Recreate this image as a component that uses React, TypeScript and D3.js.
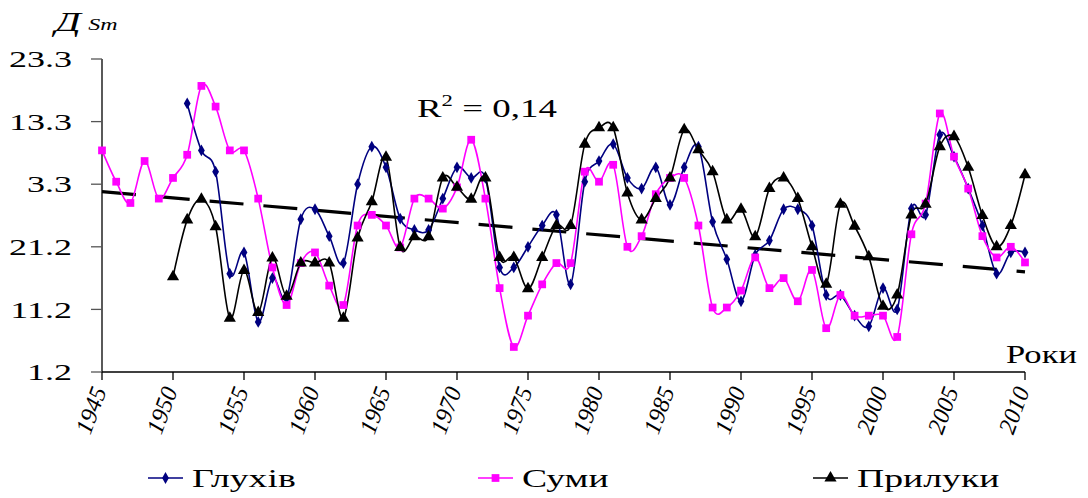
import * as d3 from "d3"

// years 1945..2010
const years = d3.range(1945, 2011)

// y tick labels as printed on the chart (bottom to top)
const yTickLabels = ["1.2", "11.2", "21.2", "3.3", "13.3", "23.3"]
const yTickPos = [0, 10, 20, 30, 40, 50]
const xTickYears = d3.range(1945, 2011, 5)

// values in chart units (0 = bottom tick, 50 = top tick)
const sumy = [
  35.4, 30.4, 27.0, 33.7, 27.7, 31.0, 34.7, 45.7, 42.4, 35.4,
  35.4, 27.7, 16.7, 10.7, 17.4, 19.1, 13.8, 10.7, 23.4, 25.1,
  23.4, 19.9, 27.7, 27.7, 26.1, 29.5, 37.1, 27.7, 13.4, 4.0,
  9.0, 14.0, 17.4, 17.4, 32.0, 30.4, 33.1, 20.0, 21.7, 28.4,
  31.0, 31.0, 23.4, 10.3, 10.3, 13.0, 18.3, 13.4, 15.0, 11.3,
  16.3, 7.0, 12.3, 9.0, 9.0, 9.0, 5.6, 22.0, 26.9, 41.3,
  34.4, 29.3, 21.7, 18.3, 20.0, 17.5,
]

const glukhiv = [
  null, null, null, null, null, null,
  42.9, 35.4, 32.0, 15.7, 19.1, 8.0, 15.0, 11.8, 24.4, 26.0,
  21.7, 17.4, 30.0, 36.0, 32.7, 24.5, 22.7, 22.7, 27.7, 32.7,
  31.0, 31.0, 16.7, 16.7, 20.0, 23.4, 25.1, 14.0, 30.4, 33.7,
  36.4, 31.0, 29.3, 32.7, 26.7, 32.7, 36.0, 24.0, 18.0, 11.3,
  18.7, 21.0, 26.0, 26.0, 23.4, 12.3, 12.3, 9.0, 7.3, 13.4,
  10.0, 26.1, 25.1, 37.9, 34.4, 29.3, 23.4, 15.7, 19.1, 19.1,
]

const pryluky = [
  null, null, null, null, null,
  15.2, 24.3, 27.6, 23.2, 8.6, 16.2, 9.5, 18.2, 12.1, 17.4,
  17.4, 17.4, 8.6, 21.4, 27.2, 34.3, 19.9, 21.6, 21.6, 31.0,
  29.5, 27.6, 31.0, 18.3, 18.3, 13.3, 18.3, 23.4, 23.4, 36.4,
  39.0, 39.0, 28.6, 24.3, 27.7, 31.0, 38.7, 35.5, 32.0, 24.3,
  26.0, 21.6, 29.3, 31.0, 27.7, 20.0, 14.0, 26.8, 23.3, 18.4,
  10.5, 12.3, 25.1, 26.8, 36.0, 37.6, 32.7, 25.0, 20.0, 23.4, 31.5,
]

// linear trend, values at 1945 and 2010
const trendYears = [1945, 2010]
const trendValues = [28.8, 16.0]

type Pt = { year: number; v: number | null }

const FONT = "Liberation Serif"
const width = 1088
const height = 498
// the original picture is stretched sideways, text included
const SX = 1.5

const x = d3.scaleLinear().domain([1945, 2010]).range([102, 1025])
const y = d3.scaleLinear().domain([0, 50]).range([372, 59])

const series = [
  { name: "Глухів", values: glukhiv, color: "#000080", marker: "diamond" },
  { name: "Суми", values: sumy, color: "#FF00FF", marker: "square" },
  { name: "Прилуки", values: pryluky, color: "#000000", marker: "triangle" },
]

const symbolPath = (m: string) =>
  (m === "diamond"
    ? d3.symbol().type(d3.symbolDiamond).size(40)
    : m === "square"
    ? d3.symbol().type(d3.symbolSquare).size(60)
    : d3.symbol().type(d3.symbolTriangle).size(64))() as string

const line = d3.line<Pt>()
  .defined(d => d.v !== null)
  .x(d => x(d.year))
  .y(d => y(d.v as number))
  .curve(d3.curveCardinal.tension(0))

const trendLine = d3.line<Pt>().x(d => x(d.year)).y(d => y(d.v as number))

const legendX = [148, 478, 813]

export default function App() {
  const trend = trendYears.map((yr, i) => ({ year: yr, v: trendValues[i] }))
  const [x0, x1] = x.range()
  const [y0, y1] = y.range()

  return (
    <svg
      width={width}
      height={height}
      fontFamily={FONT}
      style={{ position: "absolute", left: 0, top: 0, background: "#fff" }}
    >
      {/* y axis */}
      <line x1={x0} x2={x0} y1={y0} y2={y1} stroke="#000" strokeWidth={1.3} />
      {yTickPos.map((t, i) => (
        <g key={t}>
          <line x1={x0 - 11} x2={x0} y1={y(t)} y2={y(t)} stroke="#555" strokeWidth={1.3} />
          <text
            transform={`translate(${x0 - 30},${y(t)}) scale(${SX},1)`}
            dy="0.34em"
            textAnchor="end"
            fontFamily={FONT}
            fontSize={24}
            fill="#000"
          >
            {yTickLabels[i]}
          </text>
        </g>
      ))}

      {/* x axis */}
      <line x1={x0} x2={x1} y1={y0} y2={y0} stroke="#000" strokeWidth={1.3} />
      {xTickYears.map(t => (
        <g key={t}>
          <line x1={x(t)} x2={x(t)} y1={y0} y2={y0 + 8} stroke="#000" strokeWidth={1.3} />
          <text
            transform={`translate(${x(t) - 2},${y0 + 16}) rotate(-70)`}
            dy="0.3em"
            textAnchor="end"
            fontFamily={FONT}
            fontStyle="italic"
            fontSize={24}
            fill="#000"
          >
            {t}
          </text>
        </g>
      ))}

      {/* trend line */}
      <path
        d={trendLine(trend) as string}
        fill="none"
        stroke="#000"
        strokeWidth={3.2}
        strokeDasharray="34 20"
      />

      {series.map(s => (
        <path
          key={s.name}
          d={line(years.map((yr, i) => ({ year: yr, v: s.values[i] }))) as string}
          fill="none"
          stroke={s.color}
          strokeWidth={1.6}
        />
      ))}

      {series.map(s => (
        <g key={s.name + "-m"} fill={s.color}>
          {years.map((yr, i) =>
            s.values[i] === null ? null : (
              <path
                key={yr}
                d={symbolPath(s.marker)}
                transform={`translate(${x(yr)},${y(s.values[i] as number)})`}
              />
            )
          )}
        </g>
      ))}

      {/* titles */}
      <text
        transform={`translate(55,31) scale(${SX},1)`}
        fontFamily={FONT}
        fontStyle="italic"
        fill="#000"
      >
        <tspan fontSize={27}>Д</tspan>
        <tspan fontSize={16} dx={5} dy={-1}>Sm</tspan>
      </text>

      <text
        transform={`translate(417,117) scale(1.42,1)`}
        fontFamily={FONT}
        fontSize={26}
        fill="#000"
      >
        <tspan>R</tspan>
        <tspan fontSize={16} dy={-11}>2</tspan>
        <tspan dy={11}> = 0,14</tspan>
      </text>

      <text
        transform={`translate(1006,363) scale(1.33,1)`}
        fontFamily={FONT}
        fontSize={26}
        fill="#000"
      >
        Роки
      </text>

      {/* legend */}
      {series.map((s, i) => (
        <g key={s.name + "-l"} transform={`translate(${legendX[i]},478)`}>
          <line x1={0} x2={35} y1={0} y2={0} stroke={s.color} strokeWidth={1.6} />
          <path d={symbolPath(s.marker)} transform="translate(17.5,0)" fill={s.color} />
          <text
            transform={`translate(44,9) scale(1.45,1)`}
            fontFamily={FONT}
            fontSize={26}
            fill="#000"
          >
            {s.name}
          </text>
        </g>
      ))}
    </svg>
  )
}
